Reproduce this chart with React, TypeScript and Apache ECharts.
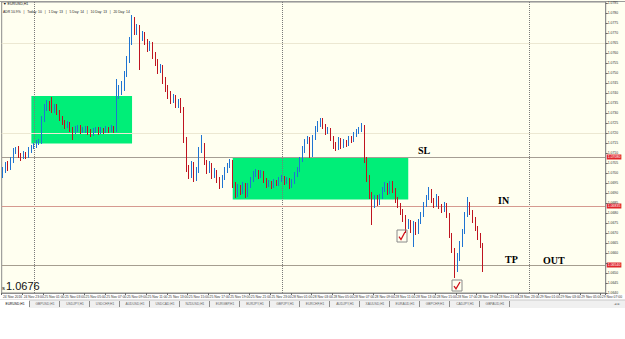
import React, { useEffect, useRef } from "react";
import * as echarts from "echarts";

// ---- price data (EURUSD M15 candles) ----
const opens = [
  1.06990, 1.07015, 1.07040, 1.07025, 1.07065, 1.07105, 1.07115, 1.07090, 1.07080, 1.07095,
  1.07085, 1.07115, 1.07130, 1.07135, 1.07150, 1.07155, 1.07265, 1.07325, 1.07345, 1.07325,
  1.07315, 1.07330, 1.07305, 1.07275, 1.07255, 1.07235, 1.07245, 1.07220, 1.07205, 1.07220,
  1.07225, 1.07210, 1.07215, 1.07220, 1.07205, 1.07195, 1.07210, 1.07215, 1.07205, 1.07215,
  1.07210, 1.07220, 1.07215, 1.07225, 1.07215, 1.07390, 1.07405, 1.07425, 1.07490, 1.07565,
  1.07655, 1.07765, 1.07705, 1.07725, 1.07675, 1.07690, 1.07655, 1.07625, 1.07640, 1.07590,
  1.07555, 1.07515, 1.07525, 1.07465, 1.07425, 1.07390, 1.07365, 1.07375, 1.07340, 1.07355,
  1.07315, 1.07165, 1.07025, 1.06990, 1.07040, 1.06975, 1.07015, 1.07115, 1.07140, 1.07055,
  1.07015, 1.07040, 1.06990, 1.07005, 1.06965, 1.06940, 1.06975, 1.07015, 1.07035, 1.07055,
  1.06940, 1.06890, 1.06925, 1.06905, 1.06940, 1.06890, 1.06935, 1.06965, 1.06990, 1.07005,
  1.06985, 1.07000, 1.06965, 1.06940, 1.06950, 1.06935, 1.06955, 1.06945, 1.06965, 1.06975,
  1.06955, 1.06965, 1.06935, 1.06955, 1.06990, 1.07015, 1.07065, 1.07115, 1.07155, 1.07165,
  1.07090, 1.07175, 1.07215, 1.07240, 1.07265, 1.07235, 1.07205, 1.07215, 1.07175, 1.07140,
  1.07125, 1.07165, 1.07135, 1.07155, 1.07145, 1.07170, 1.07165, 1.07190, 1.07205, 1.07215,
  1.07225, 1.07065, 1.06975, 1.06890, 1.06840, 1.06875, 1.06850, 1.06880, 1.06915, 1.06935,
  1.06905, 1.06945, 1.06915, 1.06865, 1.06840, 1.06805, 1.06775, 1.06735, 1.06755, 1.06715,
  1.06740, 1.06705, 1.06755, 1.06790, 1.06840, 1.06875, 1.06905, 1.06865, 1.06840, 1.06875,
  1.06835, 1.06815, 1.06840, 1.06790, 1.06690, 1.06615, 1.06515, 1.06575, 1.06640, 1.06705,
  1.06790, 1.06840, 1.06805, 1.06765, 1.06725, 1.06685, 1.06640,
];
const closes = [
  1.07015, 1.07040, 1.07025, 1.07065, 1.07105, 1.07115, 1.07090, 1.07080, 1.07095, 1.07085,
  1.07115, 1.07130, 1.07135, 1.07150, 1.07155, 1.07265, 1.07325, 1.07345, 1.07325, 1.07315,
  1.07330, 1.07305, 1.07275, 1.07255, 1.07235, 1.07245, 1.07220, 1.07205, 1.07220, 1.07225,
  1.07210, 1.07215, 1.07220, 1.07205, 1.07195, 1.07210, 1.07215, 1.07205, 1.07215, 1.07210,
  1.07220, 1.07215, 1.07225, 1.07215, 1.07390, 1.07405, 1.07425, 1.07490, 1.07565, 1.07655,
  1.07765, 1.07705, 1.07725, 1.07675, 1.07690, 1.07655, 1.07625, 1.07640, 1.07590, 1.07555,
  1.07515, 1.07525, 1.07465, 1.07425, 1.07390, 1.07365, 1.07375, 1.07340, 1.07355, 1.07315,
  1.07165, 1.07025, 1.06990, 1.07040, 1.06975, 1.07015, 1.07115, 1.07140, 1.07055, 1.07015,
  1.07040, 1.06990, 1.07005, 1.06965, 1.06940, 1.06975, 1.07015, 1.07035, 1.07055, 1.06940,
  1.06890, 1.06925, 1.06905, 1.06940, 1.06890, 1.06935, 1.06965, 1.06990, 1.07005, 1.06985,
  1.07000, 1.06965, 1.06940, 1.06950, 1.06935, 1.06955, 1.06945, 1.06965, 1.06975, 1.06955,
  1.06965, 1.06935, 1.06955, 1.06990, 1.07015, 1.07065, 1.07115, 1.07155, 1.07165, 1.07090,
  1.07175, 1.07215, 1.07240, 1.07265, 1.07235, 1.07205, 1.07215, 1.07175, 1.07140, 1.07125,
  1.07165, 1.07135, 1.07155, 1.07145, 1.07170, 1.07165, 1.07190, 1.07205, 1.07215, 1.07225,
  1.07065, 1.06975, 1.06890, 1.06840, 1.06875, 1.06850, 1.06880, 1.06915, 1.06935, 1.06905,
  1.06945, 1.06915, 1.06865, 1.06840, 1.06805, 1.06775, 1.06735, 1.06755, 1.06715, 1.06740,
  1.06705, 1.06755, 1.06790, 1.06840, 1.06875, 1.06905, 1.06865, 1.06840, 1.06875, 1.06835,
  1.06815, 1.06840, 1.06790, 1.06690, 1.06615, 1.06515, 1.06575, 1.06640, 1.06705, 1.06790,
  1.06840, 1.06805, 1.06765, 1.06725, 1.06685, 1.06640, 1.06555,
];
const highs = [
  1.07030, 1.07055, 1.07060, 1.07080, 1.07125, 1.07130, 1.07135, 1.07100, 1.07110, 1.07105,
  1.07130, 1.07140, 1.07150, 1.07165, 1.07170, 1.07285, 1.07345, 1.07365, 1.07360, 1.07380,
  1.07345, 1.07345, 1.07315, 1.07285, 1.07265, 1.07260, 1.07255, 1.07230, 1.07235, 1.07240,
  1.07240, 1.07230, 1.07235, 1.07235, 1.07220, 1.07225, 1.07230, 1.07230, 1.07230, 1.07225,
  1.07235, 1.07230, 1.07240, 1.07235, 1.07470, 1.07440, 1.07460, 1.07510, 1.07585, 1.07680,
  1.07790, 1.07780, 1.07745, 1.07740, 1.07710, 1.07705, 1.07670, 1.07660, 1.07655, 1.07605,
  1.07570, 1.07545, 1.07540, 1.07480, 1.07440, 1.07410, 1.07395, 1.07390, 1.07370, 1.07375,
  1.07330, 1.07180, 1.07040, 1.07060, 1.07055, 1.07030, 1.07130, 1.07190, 1.07150, 1.07065,
  1.07060, 1.07050, 1.07025, 1.07015, 1.06980, 1.06990, 1.07030, 1.07050, 1.07070, 1.07065,
  1.06955, 1.06945, 1.06940, 1.06955, 1.06950, 1.06950, 1.06980, 1.07010, 1.07020, 1.07015,
  1.07015, 1.07010, 1.06975, 1.06965, 1.06960, 1.06970, 1.06965, 1.06980, 1.06990, 1.06985,
  1.06980, 1.06975, 1.06970, 1.07005, 1.07030, 1.07080, 1.07135, 1.07170, 1.07185, 1.07180,
  1.07190, 1.07235, 1.07260, 1.07275, 1.07275, 1.07245, 1.07230, 1.07225, 1.07185, 1.07155,
  1.07180, 1.07175, 1.07170, 1.07165, 1.07185, 1.07185, 1.07205, 1.07220, 1.07230, 1.07250,
  1.07240, 1.07080, 1.06990, 1.06905, 1.06890, 1.06890, 1.06895, 1.06930, 1.06955, 1.06950,
  1.06960, 1.06960, 1.06925, 1.06880, 1.06850, 1.06820, 1.06790, 1.06770, 1.06765, 1.06760,
  1.06755, 1.06770, 1.06805, 1.06855, 1.06890, 1.06930, 1.06920, 1.06875, 1.06895, 1.06885,
  1.06845, 1.06855, 1.06850, 1.06800, 1.06700, 1.06625, 1.06600, 1.06660, 1.06720, 1.06805,
  1.06880, 1.06855, 1.06815, 1.06780, 1.06735, 1.06700, 1.06650,
];
const lows = [
  1.06975, 1.07000, 1.07010, 1.07015, 1.07050, 1.07095, 1.07075, 1.07060, 1.07070, 1.07070,
  1.07075, 1.07100, 1.07120, 1.07125, 1.07140, 1.07145, 1.07255, 1.07310, 1.07310, 1.07300,
  1.07300, 1.07290, 1.07260, 1.07240, 1.07220, 1.07225, 1.07205, 1.07165, 1.07195, 1.07205,
  1.07195, 1.07200, 1.07200, 1.07190, 1.07180, 1.07185, 1.07200, 1.07190, 1.07195, 1.07195,
  1.07200, 1.07200, 1.07205, 1.07200, 1.07205, 1.07370, 1.07390, 1.07410, 1.07480, 1.07550,
  1.07640, 1.07690, 1.07690, 1.07515, 1.07660, 1.07640, 1.07605, 1.07610, 1.07570, 1.07535,
  1.07495, 1.07500, 1.07445, 1.07405, 1.07370, 1.07345, 1.07350, 1.07325, 1.07325, 1.07300,
  1.07150, 1.07005, 1.06970, 1.06975, 1.06955, 1.06960, 1.07000, 1.07100, 1.07040, 1.06995,
  1.07000, 1.06970, 1.06975, 1.06950, 1.06920, 1.06925, 1.06965, 1.07000, 1.07025, 1.06925,
  1.06875, 1.06880, 1.06890, 1.06895, 1.06875, 1.06880, 1.06925, 1.06955, 1.06980, 1.06970,
  1.06975, 1.06950, 1.06925, 1.06930, 1.06920, 1.06925, 1.06935, 1.06935, 1.06955, 1.06940,
  1.06945, 1.06920, 1.06925, 1.06945, 1.06980, 1.07005, 1.07055, 1.07100, 1.07145, 1.07075,
  1.07080, 1.07165, 1.07205, 1.07230, 1.07220, 1.07190, 1.07195, 1.07160, 1.07120, 1.07110,
  1.07115, 1.07120, 1.07125, 1.07130, 1.07135, 1.07150, 1.07155, 1.07180, 1.07195, 1.07205,
  1.07050, 1.06955, 1.06870, 1.06740, 1.06825, 1.06835, 1.06840, 1.06870, 1.06905, 1.06890,
  1.06895, 1.06900, 1.06850, 1.06825, 1.06790, 1.06755, 1.06700, 1.06720, 1.06700, 1.06630,
  1.06690, 1.06695, 1.06745, 1.06780, 1.06830, 1.06865, 1.06850, 1.06825, 1.06830, 1.06820,
  1.06800, 1.06805, 1.06775, 1.06675, 1.06600, 1.06475, 1.06505, 1.06560, 1.06630, 1.06695,
  1.06780, 1.06790, 1.06750, 1.06710, 1.06665, 1.06625, 1.06505,
];

// ---- levels / annotations ----
const SL_LEVEL = 1.0708;
const IN_LEVEL = 1.06835;
const TP_LEVEL = 1.0654;
const markedLevels = [SL_LEVEL, IN_LEVEL, TP_LEVEL];
const faintLevels = [1.0765, 1.072];
const separatorIdx = [12, 108, 204];
// [fromIndex, toIndex, topPrice, bottomPrice]
const zoneBoxes = [
  [11, 50, 1.07385, 1.07148],
  [89, 157, 1.0708, 1.06868],
];
const PRICE_MIN = 1.064;
const PRICE_MAX = 1.07855;
const PRICE_STEP = 0.0005;
const CURRENT_PRICE = "1.0676";
const tabNames = [
  "EURUSD,H1", "GBPUSD,H1", "USDJPY,H1", "USDCHF,H1", "AUDUSD,H1", "USDCAD,H1",
  "NZDUSD,H1", "EURGBP,H1", "EURJPY,H1", "GBPJPY,H1", "EURCHF,H1", "AUDJPY,H1",
  "XAUUSD,H1", "EURAUD,H1", "GBPCHF,H1", "CADJPY,H1", "GBPAUD,H1",
];

// ---- time categories (M15 bars, weekend skipped) ----
const MONTHS = ["Jan", "Feb", "Mar", "Apr", "May", "Jun", "Jul", "Aug", "Sep", "Oct", "Nov", "Dec"];
const SLOT_COUNT = 234;
const categories: string[] = [];
{
  let t = Date.UTC(2016, 10, 24, 21, 0);
  while (categories.length < SLOT_COUNT) {
    const d = new Date(t);
    const wd = d.getUTCDay();
    if (wd !== 0 && wd !== 6) {
      const hh = String(d.getUTCHours()).padStart(2, "0");
      const mm = String(d.getUTCMinutes()).padStart(2, "0");
      const day = `${d.getUTCDate()} ${MONTHS[d.getUTCMonth()]}`;
      categories.push(categories.length === 0 ? `${day} ${d.getUTCFullYear()}` : `${day} ${hh}:${mm}`);
    }
    t += 15 * 60000;
  }
}

const UP = "#1f74d2";
const DOWN = "#bf1420";
const CREAM = "#fffff0";

export default function App() {
  const ref = useRef<HTMLDivElement>(null);
  useEffect(() => {
    const chart = echarts.init(ref.current!, undefined, { renderer: "svg" });
    const data = opens.map((o, i) => [o, closes[i], lows[i], highs[i]]);

    const redLabel = () => ({
      show: true,
      position: "end",
      distance: 1,
      formatter: (p: any) => Number(p.value).toFixed(5),
      backgroundColor: "#e0262b",
      color: "#fff",
      fontSize: 3.5,
      padding: [1, 1, 0, 1],
      fontFamily: "Liberation Sans",
    });

    const tabGraphics: any[] = [
      { type: "rect", shape: { x: 0, y: 294, width: 625, height: 45 }, style: { fill: "#ffffff" }, z: 1, silent: true },
      { type: "rect", shape: { x: 0, y: 300, width: 625, height: 8 }, style: { fill: "#f0f0f0" }, z: 1, silent: true },
      { type: "line", shape: { x1: 0, y1: 300, x2: 625, y2: 300 }, style: { stroke: "#c8c8c8", lineWidth: 1 }, z: 2, silent: true },
    ];
    tabNames.forEach((name, i) => {
      const x0 = i * 30;
      if (i === 0) {
        tabGraphics.push({ type: "rect", shape: { x: 0, y: 300, width: 29, height: 8 }, style: { fill: "#ffffff" }, z: 2, silent: true });
      }
      tabGraphics.push({ type: "line", shape: { x1: x0 + 29.5, y1: 301, x2: x0 + 29.5, y2: 307 }, style: { stroke: "#8c8c8c", lineWidth: 1 }, z: 3, silent: true });
      tabGraphics.push({
        type: "text", x: x0 + 15, y: 304, z: 3, silent: true,
        style: { text: name, fontSize: 3.3, fontFamily: "Liberation Sans", fill: i === 0 ? "#000" : "#666", align: "center", verticalAlign: "middle" },
      });
    });

    const annotation = (text: string, x: number, y: number) => ({
      type: "text", x, y, z: 6, silent: true,
      style: { text, fontSize: 10, fontWeight: "bold", fontFamily: "Liberation Serif", fill: "#000", align: "left", verticalAlign: "middle" },
    });
    const checkBox = (x: number, y: number, w: number, h: number) => [
      { type: "rect", shape: { x, y, width: w, height: h }, style: { fill: "rgba(255,255,255,0)", stroke: "#8a8a8a", lineWidth: 1 }, z: 6, silent: true },
      { type: "polyline", shape: { points: [[x + 2, y + h * 0.55], [x + 4, y + h * 0.8], [x + w - 2, y + 2]] }, style: { stroke: "#d0101a", lineWidth: 1.3, fill: null }, z: 6, silent: true },
    ];

    chart.setOption({
      animation: false,
      backgroundColor: CREAM,
      grid: { left: 0, right: 15, top: 2, bottom: 46, show: true, backgroundColor: CREAM, borderColor: "#8c8c8c", borderWidth: 1 },
      xAxis: {
        type: "category",
        data: categories,
        boundaryGap: true,
        z: 5,
        axisLine: { show: true, lineStyle: { color: "#8c8c8c" } },
        axisTick: { show: true, interval: 7, length: 2, lineStyle: { color: "#666" } },
        axisLabel: { interval: 7, fontSize: 3.4, color: "#333", align: "left", margin: 2, fontFamily: "Liberation Sans" },
        splitLine: { show: false },
      },
      yAxis: {
        type: "value",
        position: "right",
        min: PRICE_MIN,
        max: PRICE_MAX,
        interval: PRICE_STEP,
        z: 5,
        axisLine: { show: true, lineStyle: { color: "#8c8c8c" } },
        axisTick: { show: true, length: 2, lineStyle: { color: "#666" } },
        axisLabel: {
          fontSize: 3.4, color: "#333", margin: 2, showMaxLabel: false, fontFamily: "Liberation Sans",
          // a label sitting under a red level tag is hidden by it, as in the platform
          formatter: (v: number) => (markedLevels.some((m) => Math.abs(m - v) < 0.00012) ? "" : v.toFixed(4)),
        },
        splitLine: { show: false },
      },
      series: [
        {
          type: "candlestick",
          data,
          z: 3,
          barWidth: 1.3,
          itemStyle: { color: UP, color0: DOWN, borderColor: UP, borderColor0: DOWN, borderWidth: 1 },
          markArea: {
            silent: true,
            z: 1,
            itemStyle: { color: "#00ee78", opacity: 1 },
            data: zoneBoxes.map((b) => [
              { xAxis: b[0], yAxis: b[2] },
              { xAxis: b[1], yAxis: b[3] },
            ]),
          },
          markLine: {
            silent: true,
            z: 2,
            precision: 5,
            symbol: ["none", "none"],
            animation: false,
            data: [
              ...faintLevels.map((v) => ({ yAxis: v, lineStyle: { color: "#ece8d2", width: 1, type: "solid" }, label: { show: false } })),
              ...separatorIdx.map((v) => ({ xAxis: v, lineStyle: { color: "#7a7a7a", width: 1, type: "dotted" }, label: { show: false } })),
              { yAxis: SL_LEVEL, lineStyle: { color: "#a69e94", width: 1, type: "solid" }, label: redLabel() },
              { yAxis: IN_LEVEL, lineStyle: { color: "#d69a90", width: 1, type: "solid" }, label: redLabel() },
              { yAxis: TP_LEVEL, lineStyle: { color: "#a69e90", width: 1, type: "solid" }, label: redLabel() },
            ],
          },
        },
      ],
      graphic: [
        { type: "line", shape: { x1: 0, y1: 1.5, x2: 625, y2: 1.5 }, style: { stroke: "#9a9a9a", lineWidth: 1 }, z: 4, silent: true },
        {
          type: "text", x: 3, y: 3.5, z: 6, silent: true,
          style: { text: "\u25BC EURUSD,H1", fontSize: 3.6, fontFamily: "Liberation Sans", fill: "#111", verticalAlign: "middle" },
        },
        {
          type: "text", x: 3, y: 12, z: 6, silent: true,
          style: {
            text: "ADR 10.9%   |   Today: 10   |   1 Day: 13   |   5 Day: 14   |   10 Day: 13   |   20 Day: 14",
            fontSize: 3.4, fontFamily: "Liberation Sans", fill: "#222", verticalAlign: "middle",
          },
        },
        annotation("SL", 418, 150),
        annotation("IN", 498, 200),
        annotation("TP", 505, 259),
        annotation("OUT", 543, 260),
        ...checkBox(397, 230, 10, 12),
        ...checkBox(452, 280, 10, 11),
        {
          type: "text", x: 2, y: 291, z: 6, silent: true,
          style: { text: "s", fontSize: 6, fontFamily: "Liberation Sans", fill: "#111", verticalAlign: "bottom" },
        },
        {
          type: "text", x: 6, y: 291.5, z: 6, silent: true,
          style: { text: CURRENT_PRICE, fontSize: 11, fontFamily: "Liberation Sans", fill: "#111", verticalAlign: "bottom" },
        },
        ...tabGraphics,
        {
          type: "text", x: 617, y: 304, z: 6, silent: true,
          style: { text: "\u25C4 \u25BA", fontSize: 3.5, fontFamily: "DejaVu Sans", fill: "#777", align: "center", verticalAlign: "middle" },
        },
      ],
    });
    return () => chart.dispose();
  }, []);
  return <div ref={ref} style={{ position: "fixed", left: 0, top: 0, width: 625, height: 339 }} />;
}
